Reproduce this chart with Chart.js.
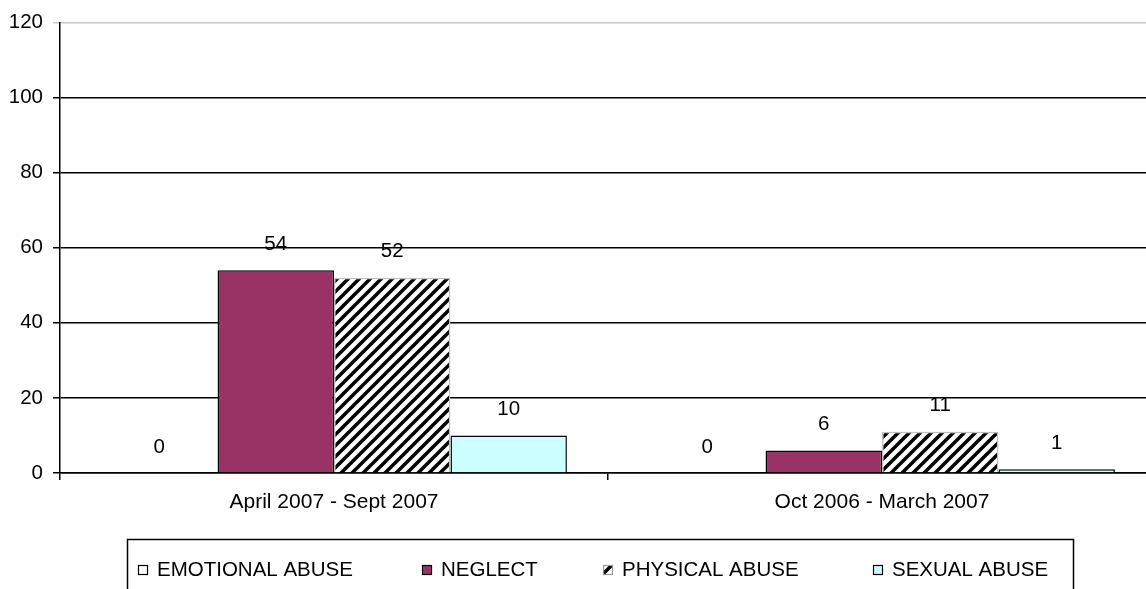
<!DOCTYPE html>
<html>
<head>
<meta charset="utf-8">
<script src="https://cdn.jsdelivr.net/npm/chart.js@4/dist/chart.umd.min.js"></script>
<style>
  html, body { margin: 0; padding: 0; background: #fff; overflow: hidden; }
  #wrap { width: 1146px; height: 589px; position: relative; overflow: hidden; }
</style>
</head>
<body>
<!-- canvas is a little wider than the window: the plot runs off the right edge in the original -->
<div id="wrap"><canvas id="chart" width="1156" height="589"></canvas></div>
<script>
// data
const categories = ["April 2007 - Sept 2007", "Oct 2006 - March 2007"];
const seriesNames = ["EMOTIONAL ABUSE", "NEGLECT", "PHYSICAL ABUSE", "SEXUAL ABUSE"];
const emotionalAbuse = [0, 0];
const neglect = [54, 6];
const physicalAbuse = [52, 11];
const sexualAbuse = [10, 1];
const yMax = 120;
const yStep = 20;

const FONT = "'Liberation Sans', Arial, sans-serif";

// diagonal hatch for physical abuse
function hatch() {
  const s = 11;
  const c = document.createElement("canvas");
  c.width = s; c.height = s;
  const g = c.getContext("2d");
  g.fillStyle = "#fff";
  g.fillRect(0, 0, s, s);
  g.strokeStyle = "#000";
  g.lineWidth = 3.5;
  g.beginPath();
  g.moveTo(-2, s + 2); g.lineTo(s + 2, -2);
  g.moveTo(-2, 2); g.lineTo(2, -2);
  g.moveTo(s - 2, s + 2); g.lineTo(s + 2, s - 2);
  g.stroke();
  return g.createPattern(c, "repeat");
}
const stripes = hatch();

// value labels above each bar
const valueLabels = {
  id: "valueLabels",
  afterDatasetsDraw(chart) {
    const ctx = chart.ctx;
    ctx.save();
    ctx.font = "20.5px " + FONT;
    ctx.fillStyle = "#000";
    ctx.textAlign = "center";
    ctx.textBaseline = "middle";
    chart.data.datasets.forEach((ds, i) => {
      chart.getDatasetMeta(i).data.forEach((bar, j) => {
        ctx.fillText(String(ds.data[j]), bar.x, bar.y - 26);
      });
    });
    ctx.restore();
  },
};

// boxed legend like the original
const boxLegend = {
  id: "boxLegend",
  afterDraw(chart) {
    const ctx = chart.ctx;
    const xs = [138, 422, 603, 873];
    ctx.save();
    ctx.strokeStyle = "#000";
    ctx.lineWidth = 1.5;
    ctx.strokeRect(127.5, 539.5, 946, 80);
    ctx.font = "20.5px " + FONT;
    ctx.textBaseline = "middle";
    ctx.textAlign = "left";
    chart.data.datasets.forEach((ds, i) => {
      const x = xs[i];
      ctx.fillStyle = ds.backgroundColor;
      ctx.fillRect(x, 565, 10, 10);
      ctx.lineWidth = 1.2;
      ctx.strokeStyle = i === 2 ? "#999" : "#000";
      ctx.strokeRect(x + 0.5, 565.5, 9, 9);
      ctx.fillStyle = "#000";
      ctx.fillText(ds.label, x + 19, 570);
    });
    ctx.restore();
  },
};

new Chart(document.getElementById("chart"), {
  type: "bar",
  data: {
    labels: categories,
    datasets: [
      { label: seriesNames[0], data: emotionalAbuse, backgroundColor: "#ffffff", borderColor: "#000", borderWidth: 1.5 },
      { label: seriesNames[1], data: neglect, backgroundColor: "#993366", borderColor: "#000", borderWidth: 1.5 },
      { label: seriesNames[2], data: physicalAbuse, backgroundColor: stripes, borderColor: "#c0c0c0", borderWidth: 1.5 },
      { label: seriesNames[3], data: sexualAbuse, backgroundColor: "#ccffff", borderColor: "#000", borderWidth: 1.5 },
    ],
  },
  options: {
    responsive: false,
    animation: false,
    events: [],
    layout: { padding: { top: 22, right: 0, left: 0, bottom: 0 } },
    categoryPercentage: 0.85,
    barPercentage: 1.0,
    plugins: {
      legend: { display: false },
      tooltip: { enabled: false },
    },
    scales: {
      x: {
        afterFit: (s) => { s.height = 116; },
        grid: { offset: true, drawOnChartArea: false, color: "#000", lineWidth: 1.5, tickLength: 7 },
        border: { color: "#000", width: 1.5 },
        ticks: { color: "#000", font: { family: FONT, size: 21 }, padding: 10, maxRotation: 0 },
      },
      y: {
        min: 0,
        max: yMax,
        afterFit: (s) => { s.width = 60; },
        grid: {
          color: (c) => (c.tick && c.tick.value === yMax ? "#c8c8c8" : "#000"),
          lineWidth: 1.5,
          tickLength: 7,
        },
        border: { color: "#000", width: 1.5 },
        ticks: { stepSize: yStep, color: "#000", font: { family: FONT, size: 20.5 }, padding: 10 },
      },
    },
  },
  plugins: [valueLabels, boxLegend],
});
</script>
</body>
</html>
